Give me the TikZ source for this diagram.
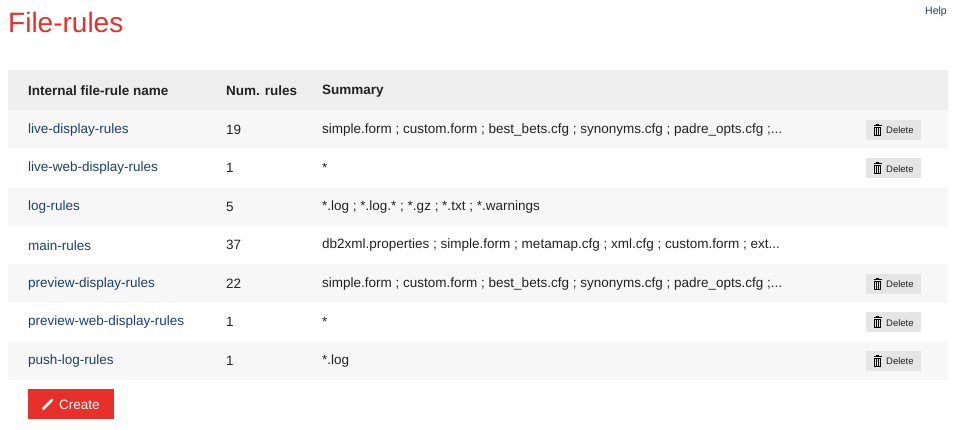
\documentclass[tikz,border=0pt]{standalone}
\usepackage{fontspec}
\setmainfont{Liberation Sans}
\definecolor{titlered}{HTML}{E8302A}
\definecolor{linkblue}{HTML}{1B3F6E}
\definecolor{headgray}{HTML}{EEEEEE}
\definecolor{stripe}{HTML}{F7F7F7}
\definecolor{btngray}{HTML}{E5E5E5}
\definecolor{txt}{HTML}{222222}
\tikzset{
  cell/.style={anchor=west, inner sep=0pt, font=\fontsize{13.5}{16}\selectfont, text=txt},
  namecell/.style={cell, text=linkblue},
  headcell/.style={cell, font=\fontsize{13.5}{16}\selectfont\bfseries},
  delbtn/.style={fill=btngray, draw=none, minimum width=55pt, minimum height=20pt, inner sep=0pt},
}
\newcommand{\trashicon}[1]{%
  \fill[black] ($(#1)+(-4,-5)$) rectangle ($(#1)+(4,-3.8)$);
  \fill[black] ($(#1)+(-1.5,-6)$) rectangle ($(#1)+(1.5,-5)$);
  \fill[black] ($(#1)+(-3.3,-3)$) rectangle ($(#1)+(3.3,6)$);
  \foreach \dx in {-1.6,0,1.6}
    \fill[btngray] ($(#1)+(\dx-0.45,-2)$) rectangle ($(#1)+(\dx+0.45,5)$);
}
\usetikzlibrary{calc}
\begin{document}
\begin{tikzpicture}[x=1pt,y=-1pt]
\useasboundingbox (0,0) rectangle (955,430);
\fill[white] (0,0) rectangle (955,430);
\node[anchor=west, inner sep=0pt, text=titlered, font=\fontsize{28}{30}\selectfont] (title) at (8,22) {File-rules};
\node[anchor=east, inner sep=0pt, text=linkblue, font=\fontsize{10.5}{12}\selectfont] (help) at (947,12) {Help};
% header
\fill[headgray] (8,70) rectangle (948,110.5);
\node[headcell] (hname) at (28,91) {Internal file-rule name};
\node[headcell] (hnum) at (226,91) {Num. rules};
\node[headcell] (hsum) at (322,91) {Summary};
% rows
\foreach \i/\name/\num/\summ/\del in {
  0/live-display-rules/19/{simple.form ; custom.form ; best\_bets.cfg ; synonyms.cfg ; padre\_opts.cfg ;...}/1,
  1/live-web-display-rules/1/{*}/1,
  2/log-rules/5/{*.log ; *.log.* ; *.gz ; *.txt ; *.warnings}/0,
  3/main-rules/37/{db2xml.properties ; simple.form ; metamap.cfg ; xml.cfg ; custom.form ; ext...}/0,
  4/preview-display-rules/22/{simple.form ; custom.form ; best\_bets.cfg ; synonyms.cfg ; padre\_opts.cfg ;...}/1,
  5/preview-web-display-rules/1/{*}/1,
  6/push-log-rules/1/{*.log}/1} {
  \pgfmathsetmacro{\ytop}{110.5+38.5*\i}
  \pgfmathsetmacro{\ymid}{\ytop+19.25}
  \pgfmathtruncatemacro{\odd}{mod(\i,2)}
  \ifnum\odd=0 \fill[stripe] (8,\ytop) rectangle (948,\ytop+38.5); \fi
  \node[namecell] (name\i) at (28,\ymid) {\name};
  \node[cell] (num\i) at (226,\ymid) {\num};
  \node[cell] (sum\i) at (322,\ymid) {\summ};
  \ifnum\del=1
    \node[delbtn] (del\i) at (893.5,\ymid) {};
    \node[anchor=west, inner sep=0pt, text=txt, font=\fontsize{9.5}{11}\selectfont] (dtxt\i) at (886,\ymid+0.5) {Delete};
    \trashicon{877.5,\ymid}
  \fi
}
% create button
\node[fill=titlered, minimum width=86pt, minimum height=30pt, inner sep=0pt] (create) at (71,404) {};
\node[anchor=west, inner sep=0pt, text=white, font=\fontsize{13.5}{16}\selectfont] (ctxt) at (59,404.5) {Create};
\fill[white, rotate around={45:(48,404)}] (40.5,402.6) -- (53,402.6) -- (55.5,404) -- (53,405.4) -- (40.5,405.4) -- cycle;
\end{tikzpicture}
\end{document}
